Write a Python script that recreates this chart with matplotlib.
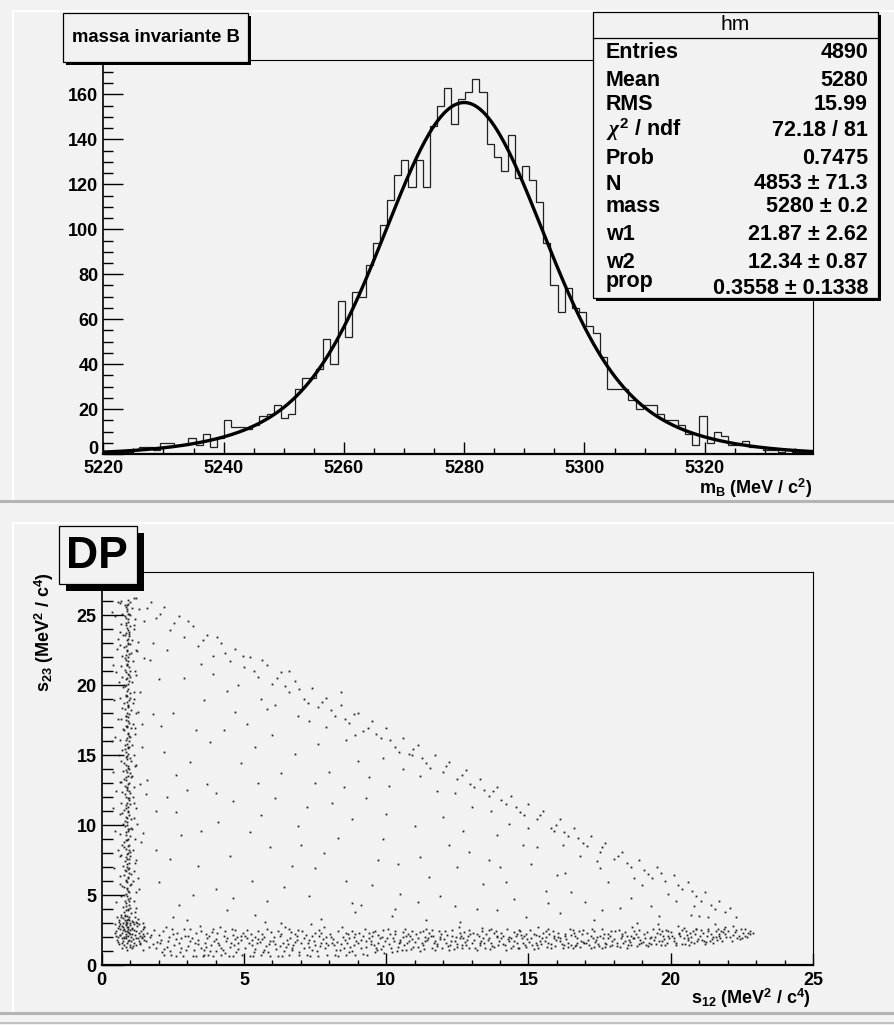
import numpy as np
import matplotlib
matplotlib.use('Agg')
import matplotlib.pyplot as plt
from matplotlib.patches import Rectangle
from matplotlib.lines import Line2D
from matplotlib.ticker import MultipleLocator, FuncFormatter

W, H = 895, 1025
BG = '#f2f2f2'

# ── top pad: B invariant mass histogram "hm" ────────────────────────────────
M_LO, M_HI = 5220.0, 5338.0
hm_counts = [0, 0, 1, 1, 2, 3, 3, 2, 5, 5, 4, 4, 7, 4, 9, 3, 7, 15, 12, 12,
             11, 13, 17, 18, 22, 16, 18, 29, 34, 34, 38, 51, 40, 68, 52, 72, 70, 84, 94, 102,
             113, 124, 131, 119, 131, 119, 146, 155, 163, 147, 158, 161, 167, 161, 138, 132, 126, 142, 123, 128,
             122, 112, 94, 75, 63, 74, 65, 63, 57, 54, 43, 29, 29, 29, 24, 20, 22, 22, 18, 15,
             15, 13, 9, 4, 17, 5, 10, 8, 4, 4, 6, 3, 3, 2, 2, 1, 2, 1, 1, 0]

# double gaussian fit, parameters as printed in the stats box
FIT_N, FIT_MASS, FIT_W1, FIT_W2, FIT_PROP = 4853.0, 5280.0, 21.87, 12.34, 0.3558

stats_labels = ['Entries', 'Mean', 'RMS', r'$\chi^{2}$ / ndf', 'Prob', 'N', 'mass',
                'w1', 'w2', 'prop']
stats_values = ['4890', '5280', '15.99', '72.18 / 81', '0.7475', '4853 ± 71.3',
                '5280 ± 0.2', '21.87 ± 2.62', '12.34 ± 0.87', '0.3558 ± 0.1338']

# ── bottom pad: Dalitz plot (s12, s23) ─────────────────────────────────────
dp_vband = [
    [0.88, 1.6], [0.95, 1.8], [0.79, 1.9], [1.02, 2.0], [0.91, 2.1], [0.84, 2.2], [0.97, 2.3], [0.90, 2.4],
    [0.76, 2.5], [1.05, 2.6], [0.93, 2.7], [0.86, 2.9], [0.99, 3.0], [0.81, 3.2], [0.94, 3.3], [0.89, 3.5],
    [1.03, 3.7], [0.78, 3.8], [0.92, 4.0], [0.87, 4.2], [0.96, 4.3], [0.83, 4.6], [1.00, 4.8], [0.90, 4.9],
    [0.85, 5.1], [0.94, 5.3], [0.80, 5.6], [0.98, 5.7], [0.89, 5.9], [0.92, 6.2], [0.77, 6.4], [1.04, 6.5],
    [0.86, 6.7], [0.95, 6.9], [0.90, 7.2], [0.82, 7.4], [0.97, 7.6], [0.88, 7.9], [1.01, 8.1], [0.84, 8.3],
    [0.93, 8.5], [0.79, 8.8], [0.91, 9.0], [0.99, 9.2], [0.87, 9.5], [0.95, 9.7], [0.83, 9.9], [0.90, 10.2],
    [1.02, 10.4], [0.86, 10.6], [0.94, 10.9], [0.78, 11.1], [0.92, 11.3], [0.88, 11.6], [0.97, 11.8],
    [0.84, 12.0], [1.00, 12.3], [0.90, 12.5], [0.81, 12.8], [0.95, 13.0], [0.87, 13.2], [0.93, 13.5],
    [0.99, 13.7], [0.85, 13.9], [0.91, 14.2], [0.79, 14.4], [1.03, 14.6], [0.88, 14.9], [0.94, 15.1],
    [0.83, 15.4], [0.96, 15.6], [0.90, 15.8], [0.86, 16.1], [1.01, 16.3], [0.92, 16.5], [0.80, 16.8],
    [0.89, 17.0], [0.97, 17.3], [0.84, 17.5], [0.93, 17.7], [0.88, 18.0], [1.04, 18.2], [0.91, 18.4],
    [0.78, 18.7], [0.95, 18.9], [0.86, 19.2], [0.99, 19.4], [0.90, 19.6], [0.83, 19.9], [0.94, 20.1],
    [0.87, 20.4], [1.00, 20.6], [0.92, 20.8], [0.81, 21.1], [0.96, 21.3], [0.89, 21.5], [0.85, 21.8],
    [0.93, 22.0], [1.02, 22.3], [0.88, 22.5], [0.79, 22.7], [0.94, 23.0], [0.90, 23.2], [0.97, 23.5],
    [0.84, 23.7], [0.91, 23.9], [1.01, 24.2], [0.87, 24.4], [0.93, 24.7], [0.82, 24.9], [0.96, 25.1],
    [0.89, 25.4], [0.85, 25.6], [0.98, 25.9], [0.92, 26.1],
    [0.93, 1.7], [0.85, 2.05], [0.99, 2.25], [0.81, 2.45], [0.90, 2.75], [1.00, 2.85], [0.87, 3.1],
    [0.95, 3.4], [0.83, 3.6], [0.91, 3.9], [0.98, 4.1], [0.86, 4.4], [0.93, 4.7], [0.80, 5.0], [0.96, 5.2],
    [0.88, 5.5], [1.02, 5.8], [0.84, 6.0], [0.91, 6.3], [0.97, 6.6], [0.82, 6.8], [0.89, 7.0], [0.95, 7.3],
    [0.86, 7.7], [1.00, 7.8], [0.92, 8.0], [0.80, 8.4], [0.96, 8.6], [0.88, 8.9], [0.85, 9.3], [0.93, 9.6],
    [1.03, 9.8], [0.89, 10.0], [0.81, 10.3], [0.96, 10.7], [0.91, 11.0], [0.86, 11.4], [1.00, 11.5],
    [0.93, 11.9], [0.83, 12.2], [0.97, 12.4], [0.89, 12.7], [0.92, 12.9], [0.79, 13.3], [1.02, 13.4],
    [0.88, 13.8], [0.95, 14.0], [0.84, 14.3], [0.90, 14.7], [0.98, 14.8], [0.86, 15.2], [0.92, 15.5],
    [0.81, 15.7], [0.96, 16.0], [0.89, 16.2], [0.94, 16.6], [1.03, 16.9], [0.85, 17.1], [0.91, 17.4],
    [0.87, 17.8], [0.97, 17.9], [0.82, 18.3], [0.93, 18.6], [0.89, 18.8], [1.01, 19.1], [0.86, 19.3],
    [0.92, 19.7], [0.80, 20.0], [0.95, 20.3], [0.90, 20.5], [0.84, 20.9], [0.98, 21.0], [0.88, 21.4],
    [0.93, 21.7], [0.83, 21.9], [0.97, 22.2], [0.90, 22.4], [0.86, 22.8], [1.00, 22.9], [0.92, 23.3],
    [0.81, 23.6], [0.95, 23.8], [0.88, 24.1], [0.93, 24.5], [0.86, 24.8], [0.99, 25.0], [0.90, 25.3],
    [0.83, 25.7], [0.94, 25.8],
    [0.87, 1.95], [0.93, 2.6], [0.89, 3.25], [0.85, 3.95], [0.95, 4.6], [0.90, 5.4], [0.84, 6.1],
    [0.94, 6.85], [0.88, 7.55], [0.96, 8.2], [0.86, 8.95], [0.92, 9.7], [0.89, 10.5], [0.85, 11.2],
    [0.95, 11.95], [0.90, 12.65], [0.87, 13.4], [0.93, 14.1], [0.84, 14.85], [0.91, 15.6], [0.96, 16.35],
    [0.88, 17.05], [0.85, 17.8], [0.94, 18.5], [0.90, 19.25], [0.86, 20.0], [0.95, 20.7], [0.89, 21.45],
    [0.84, 22.15], [0.92, 22.9], [0.97, 23.65], [0.87, 24.3], [0.91, 25.05], [0.88, 25.75],
]
dp_vwide = [
    [0.70, 1.55], [1.10, 1.85], [0.64, 2.15], [1.22, 2.45], [0.73, 2.8], [1.08, 3.15], [0.67, 3.45],
    [1.16, 3.8], [0.75, 4.15], [1.12, 4.55], [0.69, 4.9], [1.19, 5.25], [0.72, 5.65], [1.09, 6.0],
    [0.66, 6.35], [1.14, 6.75], [0.74, 7.1], [1.21, 7.5], [0.68, 7.85], [1.11, 8.25], [0.71, 8.6],
    [1.17, 9.0], [0.65, 9.35], [1.07, 9.75], [0.76, 10.1], [1.13, 10.5], [0.70, 10.85], [1.20, 11.25],
    [0.67, 11.6], [1.10, 12.0], [0.73, 12.35], [1.15, 12.75], [0.64, 13.1], [1.08, 13.5], [0.75, 13.85],
    [1.18, 14.25], [0.69, 14.6], [1.12, 15.0], [0.72, 15.35], [1.06, 15.75], [0.66, 16.1], [1.16, 16.5],
    [0.74, 16.85], [1.10, 17.25], [0.68, 17.6], [1.19, 18.0], [0.71, 18.35], [1.09, 18.75], [0.65, 19.1],
    [1.14, 19.5], [0.76, 19.85], [1.07, 20.25], [0.70, 20.6], [1.17, 21.0], [0.67, 21.35], [1.11, 21.75],
    [0.73, 22.1], [1.20, 22.5], [0.64, 22.85], [1.08, 23.25], [0.75, 23.6], [1.13, 24.0], [0.69, 24.35],
    [1.16, 24.75], [0.72, 25.1], [1.06, 25.5], [0.66, 25.85], [1.12, 26.2],
    [0.45, 2.3], [1.35, 2.1], [0.55, 3.4], [1.25, 3.0], [0.62, 2.8], [1.45, 2.6], [0.50, 4.5], [1.20, 4.1],
    [0.66, 5.8], [1.30, 5.4], [0.42, 6.9], [1.18, 7.3], [0.58, 8.2], [1.38, 8.8], [0.47, 9.6], [1.24, 10.1],
    [0.63, 10.8], [1.15, 11.6], [0.52, 12.4], [1.33, 12.9], [0.40, 13.8], [1.22, 14.3], [0.60, 15.0],
    [1.41, 15.6], [0.48, 16.3], [1.17, 16.9], [0.56, 17.6], [1.28, 18.1], [0.44, 18.9], [1.36, 19.5],
    [0.61, 20.2], [1.21, 20.7], [0.38, 21.4], [1.47, 21.9], [0.53, 22.6], [1.26, 23.1], [0.65, 23.8],
    [1.14, 24.3], [0.46, 24.9], [1.32, 25.4], [0.57, 25.9], [1.19, 26.2], [0.35, 25.2], [0.68, 26.0],
    [1.50, 24.6], [0.41, 11.2], [1.44, 9.4], [0.69, 13.1], [1.12, 19.0], [0.50, 20.9], [1.40, 17.2],
    [0.64, 7.8], [1.29, 6.2], [0.37, 16.0], [1.55, 12.2], [0.59, 23.3], [1.23, 22.4],
]
dp_corner = [
    [0.62, 1.5], [0.74, 1.7], [1.12, 1.6], [0.58, 2.0], [1.20, 1.9], [0.70, 2.3], [1.08, 2.2], [0.66, 2.6],
    [1.15, 2.5], [0.80, 2.0], [1.30, 2.3], [0.52, 2.4], [0.98, 1.4], [1.25, 2.8], [0.76, 3.0], [1.10, 3.1],
    [0.60, 3.2], [1.40, 2.0], [0.85, 1.3], [1.05, 1.2], [0.72, 1.2], [1.35, 1.6], [0.55, 1.8], [1.18, 3.4],
    [0.68, 3.6], [1.48, 2.7], [0.90, 1.1], [0.64, 2.9], [1.28, 3.3], [0.82, 3.5], [1.00, 1.3], [0.74, 2.7],
    [1.14, 2.9], [1.50, 1.8], [0.48, 2.9], [1.22, 1.4],
    [0.58, 1.65], [0.78, 1.45], [1.02, 1.75], [1.26, 1.95], [0.66, 2.15], [0.92, 2.35], [1.16, 2.15],
    [1.38, 2.45], [0.56, 2.65], [0.84, 2.85], [1.06, 2.65], [1.32, 2.95], [0.62, 3.05], [0.96, 3.25],
    [1.20, 3.05], [0.74, 3.35], [1.44, 2.2], [0.50, 2.1], [1.10, 1.35], [0.70, 1.9], [1.00, 2.5],
    [0.80, 2.55], [1.30, 1.75], [0.90, 3.0], [1.45, 3.0],
]
dp_hband = [
    [1.4, 1.9], [1.6, 2.3], [1.8, 1.5], [1.5, 2.7], [1.9, 1.2], [1.7, 2.0], [1.45, 1.1], [1.85, 2.5],
    [1.35, 1.5], [1.55, 1.75], [1.75, 2.15], [1.95, 1.65], [1.65, 1.3], [1.5, 2.05],
    [2.1, 1.8], [2.3, 1.3], [2.5, 2.2], [2.7, 1.6], [2.9, 2.6], [2.2, 0.7], [2.6, 0.65], [2.4, 1.0],
    [2.8, 1.9], [2.15, 2.4], [2.55, 1.45], [2.95, 1.1], [2.35, 2.0], [2.75, 0.9], [2.05, 1.55],
    [2.02, 2.15], [2.18, 1.15], [2.32, 1.7], [2.48, 2.55], [2.62, 1.85], [2.78, 1.25], [2.92, 2.05],
    [2.44, 0.68], [2.86, 0.63], [2.12, 0.95], [2.66, 2.3], [2.26, 2.75],
    [3.1, 1.7], [3.3, 2.3], [3.5, 1.2], [3.7, 1.9], [3.9, 2.6], [3.2, 0.65], [3.6, 0.7], [3.4, 1.5],
    [3.8, 1.0], [3.05, 2.1], [3.45, 2.8], [3.85, 1.4], [3.25, 1.1], [3.65, 2.2], [3.95, 1.75], [3.55, 0.62],
    [3.02, 1.35], [3.18, 1.95], [3.32, 0.64], [3.48, 2.45], [3.62, 1.6], [3.78, 2.1], [3.92, 0.66],
    [3.12, 2.55], [3.38, 1.8], [3.58, 1.05], [3.72, 0.68], [3.88, 2.35], [3.28, 1.55], [3.68, 1.3],
    [4.1, 1.6], [4.3, 2.1], [4.5, 1.3], [4.7, 2.5], [4.9, 1.8], [4.2, 0.68], [4.6, 0.63], [4.0, 1.0],
    [4.4, 1.9], [4.8, 1.15], [4.15, 2.7], [4.55, 1.55], [4.95, 2.3], [4.35, 0.85], [4.75, 2.0],
    [4.65, 1.4], [4.05, 2.3],
    [4.02, 1.85], [4.18, 1.25], [4.32, 2.4], [4.48, 0.66], [4.62, 2.15], [4.78, 1.6], [4.92, 0.7],
    [4.12, 1.45], [4.38, 1.7], [4.58, 2.6], [4.72, 0.95], [4.88, 2.05], [4.28, 1.05], [4.68, 1.85],
    [5.1, 1.9], [5.3, 1.4], [5.5, 2.4], [5.7, 1.1], [5.9, 1.7], [5.2, 0.66], [5.6, 0.7], [5.4, 2.0],
    [5.8, 2.6], [5.05, 1.25], [5.45, 1.6], [5.85, 0.95], [5.25, 2.2], [5.65, 1.85], [5.95, 2.35],
    [5.35, 0.9], [5.75, 3.1],
    [5.02, 2.05], [5.18, 1.55], [5.32, 0.65], [5.48, 1.85], [5.62, 2.25], [5.78, 1.35], [5.92, 0.67],
    [5.12, 2.5], [5.38, 1.15], [5.58, 1.65], [5.72, 2.0], [5.88, 1.5], [5.28, 1.8], [5.68, 0.92],
    [6.1, 1.5], [6.3, 2.2], [6.5, 1.8], [6.7, 1.2], [6.9, 2.5], [6.2, 0.64], [6.6, 0.69], [6.4, 1.0],
    [6.8, 1.65], [6.05, 2.0], [6.45, 2.7], [6.85, 2.05], [6.25, 1.35], [6.65, 2.35], [6.95, 0.9], [6.55, 1.5],
    [6.02, 1.75], [6.18, 2.45], [6.32, 0.66], [6.48, 1.3], [6.62, 1.95], [6.78, 2.2], [6.92, 0.68],
    [6.12, 1.15], [6.38, 1.6], [6.58, 2.55], [6.72, 1.45], [6.88, 1.8], [6.28, 2.1], [6.68, 1.05],
    [7.1, 1.9], [7.3, 1.3], [7.5, 2.3], [7.7, 1.6], [7.9, 2.0], [7.2, 0.68], [7.6, 0.66], [7.4, 1.1],
    [7.8, 2.7], [7.05, 2.4], [7.45, 1.75], [7.85, 1.2], [7.25, 1.55], [7.65, 2.05], [7.95, 1.45], [7.35, 2.9],
    [7.02, 1.55], [7.18, 2.15], [7.32, 0.64], [7.48, 1.4], [7.62, 2.5], [7.78, 1.85], [7.92, 0.7],
    [7.12, 1.2], [7.38, 2.05], [7.58, 1.0], [7.72, 2.3], [7.88, 1.6], [7.28, 1.8], [7.68, 1.35],
    [8.1, 1.6], [8.3, 2.4], [8.5, 1.2], [8.7, 1.9], [8.9, 2.2], [8.2, 0.7], [8.6, 0.68], [8.4, 1.5],
    [8.8, 1.0], [8.05, 2.0], [8.45, 2.7], [8.85, 1.45], [8.25, 1.1], [8.65, 2.25], [8.95, 1.75], [8.55, 1.8],
    [8.02, 2.2], [8.18, 1.4], [8.32, 0.67], [8.48, 2.0], [8.62, 1.55], [8.78, 2.45], [8.92, 0.72],
    [8.12, 1.85], [8.38, 1.1], [8.58, 2.3], [8.72, 1.3], [8.88, 2.0], [8.28, 1.65], [8.68, 0.95],
    [9.1, 1.8], [9.3, 1.3], [9.5, 2.1], [9.7, 1.6], [9.9, 2.5], [9.2, 0.8], [9.6, 0.95], [9.4, 1.9],
    [9.8, 1.15], [9.05, 2.3], [9.45, 1.5], [9.85, 2.0], [9.25, 2.6], [9.65, 1.25], [9.95, 1.7], [9.55, 2.35],
    [9.02, 1.55], [9.18, 2.05], [9.32, 0.75], [9.48, 1.7], [9.62, 2.4], [9.78, 1.9], [9.92, 0.85],
    [9.12, 1.2], [9.38, 2.3], [9.58, 1.45], [9.72, 2.15], [9.88, 1.35], [9.28, 1.75], [9.68, 1.1],
    [10.1, 1.5], [10.3, 2.2], [10.5, 1.8], [10.7, 1.1], [10.9, 2.4], [10.2, 0.9], [10.6, 2.0], [10.4, 1.3],
    [10.8, 1.7], [10.05, 2.6], [10.45, 1.55], [10.85, 2.05], [10.25, 1.95], [10.65, 2.55], [10.95, 1.3],
    [10.55, 1.05],
    [10.02, 1.9], [10.18, 1.25], [10.32, 2.45], [10.48, 1.65], [10.62, 1.4], [10.78, 2.2], [10.92, 1.85],
    [10.12, 2.25], [10.38, 1.0], [10.58, 2.35], [10.72, 1.55], [10.88, 1.15], [10.28, 1.75], [10.68, 2.05],
    [11.1, 1.9], [11.3, 1.4], [11.5, 2.3], [11.7, 1.7], [11.9, 2.0], [11.2, 1.0], [11.6, 1.2], [11.4, 2.6],
    [11.8, 1.5], [11.05, 2.2], [11.45, 1.8], [11.85, 2.4], [11.25, 1.55], [11.65, 2.1], [11.95, 1.25],
    [11.35, 2.0],
    [11.02, 1.65], [11.18, 2.35], [11.32, 1.15], [11.48, 1.95], [11.62, 2.5], [11.78, 1.35], [11.92, 2.2],
    [11.12, 1.3], [11.38, 1.75], [11.58, 2.05], [11.72, 1.1], [11.88, 1.85], [11.28, 2.45], [11.68, 1.55],
    [12.1, 1.6], [12.3, 2.1], [12.5, 1.3], [12.7, 1.9], [12.9, 2.5], [12.2, 1.1], [12.6, 2.3], [12.4, 1.7],
    [12.8, 1.4], [12.05, 2.4], [12.45, 2.0], [12.85, 1.8], [12.25, 1.45], [12.65, 1.2], [12.95, 2.2],
    [12.55, 2.7],
    [12.02, 1.85], [12.18, 1.35], [12.32, 2.5], [12.48, 1.5], [12.62, 2.05], [12.78, 1.65], [12.92, 1.25],
    [12.12, 2.15], [12.38, 1.15], [12.58, 1.9], [12.72, 2.35], [12.88, 2.05], [12.28, 1.7], [12.68, 1.45],
    [13.1, 1.8], [13.3, 1.4], [13.5, 2.2], [13.7, 1.6], [13.9, 2.0], [13.2, 1.1], [13.6, 2.5], [13.4, 1.9],
    [13.8, 1.3], [13.05, 2.3], [13.45, 1.55], [13.85, 2.4], [13.25, 2.1], [13.65, 1.15], [13.95, 1.7],
    [13.35, 2.65],
    [13.02, 1.55], [13.18, 2.25], [13.32, 1.7], [13.48, 1.2], [13.62, 1.95], [13.78, 2.3], [13.92, 1.45],
    [13.12, 1.25], [13.38, 2.45], [13.58, 1.8], [13.72, 1.35], [13.88, 2.1], [13.28, 1.6], [13.68, 2.6],
    [14.1, 1.5], [14.3, 2.0], [14.5, 1.7], [14.7, 2.4], [14.9, 1.3], [14.2, 1.1], [14.6, 2.2], [14.4, 1.9],
    [14.8, 1.6], [14.05, 2.3], [14.45, 1.35], [14.85, 2.1], [14.25, 2.6], [14.65, 1.2], [14.95, 1.85],
    [14.55, 2.05],
    [14.02, 1.95], [14.18, 1.4], [14.32, 1.75], [14.48, 2.35], [14.62, 1.25], [14.78, 1.95], [14.92, 2.2],
    [14.12, 2.05], [14.38, 1.2], [14.58, 1.6], [14.72, 2.15], [14.88, 1.45], [14.28, 1.85], [14.68, 2.5],
    [15.1, 1.9], [15.3, 1.4], [15.5, 2.3], [15.7, 1.6], [15.9, 2.1], [15.2, 1.15], [15.6, 2.0], [15.4, 1.75],
    [15.8, 1.25], [15.05, 2.5], [15.45, 1.5], [15.85, 2.4], [15.25, 2.15], [15.65, 1.3], [15.95, 1.8],
    [15.35, 2.7],
    [15.02, 1.65], [15.18, 2.2], [15.32, 1.25], [15.48, 1.9], [15.62, 2.45], [15.78, 1.5], [15.92, 1.35],
    [15.12, 1.4], [15.38, 2.05], [15.58, 1.7], [15.72, 2.25], [15.88, 1.95], [15.28, 1.55], [15.68, 2.6],
    [16.1, 1.7], [16.3, 2.2], [16.5, 1.4], [16.7, 1.9], [16.9, 2.5], [16.2, 1.2], [16.6, 2.3], [16.4, 1.6],
    [16.8, 1.3], [16.05, 2.0], [16.45, 2.6], [16.85, 1.75], [16.25, 1.45], [16.65, 2.05], [16.95, 1.55],
    [16.55, 1.25],
    [16.02, 2.3], [16.18, 1.5], [16.32, 1.85], [16.48, 2.15], [16.62, 1.35], [16.78, 2.4], [16.92, 1.65],
    [16.12, 1.95], [16.38, 1.3], [16.58, 2.5], [16.72, 1.6], [16.88, 2.2], [16.28, 2.05], [16.68, 1.4],
    [17.1, 1.8], [17.3, 1.3], [17.5, 2.1], [17.7, 1.6], [17.9, 2.4], [17.2, 1.25], [17.6, 1.2], [17.4, 2.0],
    [17.8, 1.9], [17.05, 2.3], [17.45, 1.5], [17.85, 1.35], [17.25, 2.6], [17.65, 2.2], [17.95, 1.7],
    [17.35, 1.65],
    [17.02, 1.55], [17.18, 2.1], [17.32, 2.45], [17.48, 1.35], [17.62, 1.9], [17.78, 2.25], [17.92, 1.45],
    [17.12, 1.4], [17.38, 1.8], [17.58, 2.55], [17.72, 1.5], [17.88, 2.05], [17.28, 1.95], [17.68, 1.3],
    [18.1, 1.6], [18.3, 2.2], [18.5, 1.4], [18.7, 1.9], [18.9, 2.5], [18.2, 1.3], [18.6, 2.1], [18.4, 1.7],
    [18.8, 1.35], [18.05, 2.4], [18.45, 1.25], [18.85, 2.0], [18.25, 1.9], [18.65, 2.7], [18.95, 1.55],
    [18.55, 1.8],
    [18.02, 1.85], [18.18, 2.5], [18.32, 1.55], [18.48, 2.05], [18.62, 1.45], [18.78, 2.2], [18.92, 1.8],
    [18.12, 1.35], [18.38, 2.35], [18.58, 1.65], [18.72, 2.45], [18.88, 1.5], [18.28, 2.1], [18.68, 1.95],
    [19.1, 1.9], [19.3, 1.5], [19.5, 2.3], [19.7, 1.7], [19.9, 2.1], [19.2, 1.35], [19.6, 2.6], [19.4, 1.8],
    [19.8, 1.4], [19.05, 2.2], [19.45, 2.0], [19.85, 2.5], [19.25, 1.6], [19.65, 1.45], [19.95, 1.95],
    [19.55, 2.9],
    [19.02, 1.65], [19.18, 2.35], [19.32, 2.0], [19.48, 1.5], [19.62, 2.2], [19.78, 1.85], [19.92, 2.45],
    [19.12, 1.45], [19.38, 2.6], [19.58, 1.75], [19.72, 2.05], [19.88, 1.6], [19.28, 1.9], [19.68, 2.4],
    [20.1, 1.7], [20.3, 2.3], [20.5, 1.5], [20.7, 2.0], [20.9, 2.6], [20.2, 1.4], [20.6, 1.8], [20.4, 2.5],
    [20.8, 1.55], [20.05, 2.1], [20.45, 1.9], [20.85, 2.2], [20.25, 2.8], [20.65, 1.45], [20.95, 1.85],
    [20.55, 2.4],
    [20.02, 2.35], [20.18, 1.6], [20.32, 2.05], [20.48, 2.65], [20.62, 1.95], [20.78, 2.4], [20.92, 1.7],
    [20.12, 1.9], [20.38, 1.5], [20.58, 2.15], [20.72, 1.65], [20.88, 2.55], [20.28, 2.2], [20.68, 2.3],
    [21.1, 1.8], [21.3, 2.4], [21.5, 1.6], [21.7, 2.1], [21.9, 2.7], [21.2, 1.5], [21.6, 2.0], [21.4, 2.2],
    [21.8, 1.75], [21.05, 2.5], [21.45, 1.85], [21.85, 2.35], [21.25, 1.65], [21.65, 2.6], [21.95, 2.0],
    [21.55, 2.9],
    [21.02, 2.1], [21.18, 1.7], [21.32, 2.55], [21.48, 2.0], [21.62, 1.8], [21.78, 2.45], [21.92, 2.2],
    [21.12, 2.3], [21.38, 1.75], [21.58, 2.4], [21.72, 1.95], [21.88, 2.6], [21.28, 2.05], [21.68, 2.25],
    [22.1, 2.0], [22.3, 2.5], [22.5, 1.9], [22.7, 2.3], [22.2, 2.8], [22.4, 2.1], [22.6, 2.6], [22.8, 2.2],
    [22.15, 1.7], [22.55, 2.3], [22.02, 2.4], [22.18, 2.15], [22.32, 1.95], [22.48, 2.6], [22.62, 2.1],
    [22.78, 2.45], [22.25, 2.35], [22.45, 1.85], [22.68, 2.0], [22.9, 2.3],
]
dp_hhalo = [
    [3.0, 3.2], [5.4, 3.6], [7.7, 3.3], [10.2, 3.5], [12.6, 3.1], [14.9, 3.4], [17.3, 3.2], [19.6, 3.5],
    [21.3, 3.4], [8.9, 3.8], [16.1, 3.7], [2.5, 3.4], [6.3, 3.0], [11.4, 3.2], [13.9, 3.9], [18.8, 3.0],
    [20.7, 3.6], [4.4, 3.9],
]
dp_diag = [
    [1.6, 25.5], [1.9, 24.8], [2.2, 25.6], [2.4, 23.9], [2.7, 24.9], [2.9, 23.4], [3.2, 24.2], [3.4, 22.8],
    [3.7, 23.6], [3.9, 22.1], [4.2, 23.0], [4.5, 21.7], [4.7, 22.6], [5.0, 21.3], [5.2, 22.0], [5.5, 20.6],
    [5.8, 21.4], [6.0, 20.1], [6.3, 20.9], [6.6, 19.5], [6.8, 20.3], [7.1, 19.0], [7.4, 19.8], [7.6, 18.4],
    [7.9, 19.1], [8.2, 17.8], [8.4, 18.6], [8.7, 17.3], [9.0, 18.0], [9.2, 16.7], [9.5, 17.4], [9.8, 16.2],
    [10.0, 16.9], [10.3, 15.6], [10.6, 16.2], [10.9, 15.0], [11.1, 15.7], [11.4, 14.4], [11.7, 15.0],
    [12.0, 13.8], [12.2, 14.5], [12.5, 13.3], [12.8, 13.9], [13.1, 12.7], [13.3, 13.3], [13.6, 12.1],
    [13.9, 12.7], [14.2, 11.5], [14.4, 12.1], [14.7, 10.9], [15.0, 11.5], [15.3, 10.4], [15.5, 11.0],
    [15.8, 9.8], [16.1, 10.4], [16.4, 9.2], [16.6, 9.8], [16.9, 8.7], [17.2, 9.2], [17.5, 8.1], [17.7, 8.7],
    [18.0, 7.6], [18.3, 8.1], [18.6, 7.0], [18.9, 7.5], [19.2, 6.5], [19.5, 7.0], [19.8, 6.0], [20.1, 6.4],
    [20.4, 5.4], [20.6, 5.9], [20.9, 4.9], [21.2, 5.2], [21.4, 4.3], [21.7, 4.6], [21.9, 3.8], [22.1, 4.1],
    [21.0, 3.5], [22.3, 3.4],
    [2.3, 22.5], [3.5, 21.5], [4.8, 20.0], [6.1, 18.6], [7.3, 17.4], [8.6, 16.1], [9.9, 14.8], [11.2, 13.5],
    [12.4, 12.3], [13.7, 11.0], [15.0, 9.8], [16.2, 8.6], [17.4, 7.4], [18.7, 6.2], [19.9, 5.1], [20.8, 4.2],
    [1.8, 23.0], [5.6, 19.0], [10.6, 14.0], [14.3, 10.1],
    [1.75, 25.9], [2.05, 25.1], [2.55, 24.4], [3.05, 24.6], [3.55, 23.2], [4.05, 23.4], [4.35, 22.3],
    [4.95, 22.1], [5.35, 21.0], [5.65, 21.8], [6.15, 20.5], [6.45, 19.9], [6.95, 19.7], [7.25, 18.7],
    [7.75, 18.8], [8.05, 18.2], [8.55, 17.6], [8.85, 17.9], [9.35, 16.9], [9.65, 16.5], [10.15, 16.1],
    [10.45, 15.2], [10.95, 15.4], [11.25, 14.8], [11.55, 14.1], [12.1, 14.2], [12.65, 13.6], [12.95, 12.9],
    [13.45, 12.5], [13.75, 12.4], [14.05, 11.8], [14.55, 11.3], [14.85, 10.7], [15.4, 10.7], [15.95, 10.0],
    [16.25, 9.5], [16.75, 9.1], [17.05, 8.5], [17.6, 8.4], [18.15, 7.8], [18.45, 7.3], [19.05, 6.8],
    [19.35, 6.2], [19.65, 6.6], [20.25, 5.7], [20.75, 5.3], [21.05, 4.6], [21.55, 4.0],
]
dp_inner = [
    [2.5, 18.0], [3.0, 12.5], [3.4, 7.1], [3.8, 15.9], [4.1, 10.2], [4.6, 4.8], [5.1, 17.2], [5.5, 13.0],
    [5.9, 8.4], [6.4, 5.6], [6.8, 15.1], [7.2, 11.3], [7.5, 6.9], [8.0, 13.8], [8.3, 9.1], [8.8, 4.4],
    [9.3, 11.9], [9.7, 7.5], [10.1, 12.8], [10.5, 5.1], [11.0, 9.9], [11.5, 6.3], [12.0, 10.6], [12.4, 4.2],
    [12.9, 8.1], [13.4, 5.8], [13.9, 9.3], [14.5, 4.7], [15.1, 7.2], [15.6, 5.3], [16.3, 6.6], [17.0, 4.5],
    [17.8, 5.9], [2.8, 9.3], [4.4, 19.6], [6.1, 11.9], [7.9, 17.0], [9.0, 14.6], [10.8, 15.1], [11.8, 12.4],
    [3.2, 5.0], [5.3, 6.0], [7.0, 8.6], [8.6, 6.0], [9.9, 9.0], [13.0, 11.3], [14.8, 8.6], [16.8, 7.8],
    [2.2, 15.2], [6.6, 21.0], [4.9, 14.4], [8.4, 19.5], [12.5, 7.0], [15.9, 9.6], [18.6, 4.8], [3.6, 18.9],
    [10.3, 4.0], [19.3, 4.2], [2.0, 20.4], [2.6, 13.6], [3.3, 16.8], [1.9, 11.0], [4.0, 12.3], [2.4, 7.6],
    [1.7, 21.8], [2.1, 17.1], [2.9, 20.5], [3.1, 14.5], [3.9, 20.8], [4.3, 16.8], [4.7, 18.1], [5.4, 15.6],
    [5.8, 18.3], [6.3, 13.7], [6.9, 17.8], [7.6, 15.8], [8.1, 11.6], [8.9, 16.4], [9.4, 13.4], [10.0, 10.8],
    [1.8, 17.9], [2.6, 10.9], [3.5, 9.6], [4.5, 7.8], [5.6, 10.7], [6.9, 9.9], [7.8, 8.0], [8.8, 10.4],
    [9.5, 5.7], [11.2, 7.7], [11.9, 4.9], [12.7, 9.6], [13.6, 7.5], [14.2, 5.9], [15.3, 8.4], [16.5, 5.2],
    [17.5, 6.9], [18.2, 4.1], [19.0, 5.7], [2.0, 5.9], [2.7, 4.3], [4.0, 5.4], [5.8, 4.6], [7.3, 4.9],
    [9.1, 4.3], [11.1, 4.5], [13.2, 4.0], [15.7, 4.4], [17.6, 3.9], [20.2, 4.6], [1.6, 13.2], [1.9, 8.2],
    [3.7, 12.9], [5.2, 9.5], [6.7, 7.1], [8.5, 12.7], [10.4, 7.2], [12.2, 8.6], [14.0, 7.0], [16.0, 6.4],
    [2.3, 12.0], [4.6, 11.7], [6.0, 16.4], [7.5, 13.0],
]


def fx(x):
    return x / W


def fy(y):
    return 1.0 - y / H


def gauss(x, mu, sig):
    return np.exp(-0.5 * ((x - mu) / sig) ** 2) / (np.sqrt(2 * np.pi) * sig)


plt.rcParams.update({
    'font.family': 'Liberation Sans',
    'font.weight': 'bold',
    'mathtext.fontset': 'custom',
    'mathtext.rm': 'Liberation Sans:bold',
    'mathtext.bf': 'Liberation Sans:bold',
    'mathtext.it': 'Liberation Serif:italic',
    'axes.linewidth': 1.0,
})

fig = plt.figure(figsize=(W / 100, H / 100), dpi=100, facecolor=BG)


def style_axes(ax, ymaj_len, ymin_len, xmaj_len, xmin_len, xpad):
    ax.set_facecolor(BG)
    ax.spines['left'].set_linewidth(1.2)
    ax.spines['bottom'].set_linewidth(1.6)
    ax.spines['top'].set_linewidth(0.8)
    ax.spines['right'].set_linewidth(0.8)
    ax.tick_params(which='both', direction='in', top=False, right=False,
                   labelsize=13, width=1.0, colors='black')
    ax.tick_params(axis='y', which='major', length=ymaj_len, pad=3.5)
    ax.tick_params(axis='y', which='minor', length=ymin_len)
    ax.tick_params(axis='x', which='major', length=xmaj_len, pad=xpad)
    ax.tick_params(axis='x', which='minor', length=xmin_len)


# ── top pad ──────────────────────────────────────────────────────────────────
ax1 = fig.add_axes([fx(103.3), fy(454), (813 - 103.3) / W, (454 - 60) / H])
style_axes(ax1, 14.4, 7.2, 8.6, 4.3, 4.6)

edges = np.linspace(M_LO, M_HI, len(hm_counts) + 1)
ax1.stairs(hm_counts, edges, color='#202020', lw=0.9)

bin_w = (M_HI - M_LO) / len(hm_counts)
xf = np.linspace(M_LO, M_HI, 500)
yf = FIT_N * bin_w * (FIT_PROP * gauss(xf, FIT_MASS, FIT_W1)
                      + (1 - FIT_PROP) * gauss(xf, FIT_MASS, FIT_W2))
ax1.plot(xf, yf, color='black', lw=2.4)

ax1.set_xlim(M_LO, M_HI)
ax1.set_ylim(0, 1.05 * max(hm_counts))
ax1.xaxis.set_major_locator(MultipleLocator(20))
ax1.xaxis.set_minor_locator(MultipleLocator(5))
ax1.yaxis.set_major_locator(MultipleLocator(20))
ax1.yaxis.set_minor_locator(MultipleLocator(5))
# the "0" of the y axis sits a little above the axis, clear of "5220" (as ROOT does)
ax1.yaxis.set_major_formatter(FuncFormatter(lambda v, p: '' if v == 0 else f'{v:g}'))
fig.text(fx(98.5), fy(449), '0', ha='right', va='center', fontsize=13)

fig.text(fx(812), fy(488), r'm$_{\mathrm{B}}$ (MeV / c$^{2}$)', ha='right', va='center',
         fontsize=13)

# ── bottom pad ───────────────────────────────────────────────────────────────
ax2 = fig.add_axes([fx(101.7), fy(965), (813 - 101.7) / W, (965 - 571.7) / H])
style_axes(ax2, 15.6, 7.8, 8.6, 3.8, 5.0)

dp = np.array(dp_vband + dp_vwide + dp_corner + dp_hband + dp_hhalo + dp_diag + dp_inner)
ax2.plot(dp[:, 0], dp[:, 1], 's', ms=1.3, mew=0, color='#222222')

ax2.set_xlim(0, 25)
ax2.set_ylim(0, 28.1)
ax2.xaxis.set_major_locator(MultipleLocator(5))
ax2.xaxis.set_minor_locator(MultipleLocator(1))
ax2.yaxis.set_major_locator(MultipleLocator(5))
ax2.yaxis.set_minor_locator(MultipleLocator(1))

fig.text(fx(811), fy(998), r's$_{12}$ (MeV$^{2}$ / c$^{4}$)', ha='right', va='center',
         fontsize=13)
fig.text(fx(44), fy(572), r's$_{23}$ (MeV$^{2}$ / c$^{4}$)', ha='center', va='top',
         rotation=90, fontsize=13)


# ── boxes (title, stats, DP) ─────────────────────────────────────────────────
def box(x0, y0, x1, y1, shadow, lw=0.9):
    if shadow:
        fig.add_artist(Rectangle((fx(x0 + shadow), fy(y1 + shadow)), (x1 - x0) / W,
                                 (y1 - y0) / H, transform=fig.transFigure,
                                 facecolor='black', edgecolor='none', zorder=20))
    fig.add_artist(Rectangle((fx(x0), fy(y1)), (x1 - x0) / W, (y1 - y0) / H,
                             transform=fig.transFigure, facecolor=BG,
                             edgecolor='black', lw=lw, zorder=21))


box(63, 13, 248, 62, 3)
fig.text(fx(155.5), fy(38), 'massa invariante B', ha='center', va='center',
         fontsize=13.3, zorder=22)

box(593, 12, 878, 298, 3)
fig.add_artist(Line2D([fx(593), fx(878)], [fy(38), fy(38)], transform=fig.transFigure,
                      color='black', lw=0.9, zorder=22))
fig.text(fx(735.5), fy(25), 'hm', ha='center', va='center', fontsize=15,
         fontweight='normal', zorder=22)
label_y = [53, 80, 105, 130, 158, 185, 206, 235, 262, 282]
value_y = [53, 80, 105, 130, 158, 184, 207, 235, 262, 288]
for lab, val, ly, vy in zip(stats_labels, stats_values, label_y, value_y):
    fig.text(fx(606), fy(ly), lab, ha='left', va='center', fontsize=15.5, zorder=22)
    fig.text(fx(868), fy(vy), val, ha='right', va='center', fontsize=15.5, zorder=22)

box(59, 526, 137, 584, 7)
fig.text(fx(97), fy(556), 'DP', ha='center', va='center', fontsize=32, zorder=22)


# ── pad bevels ───────────────────────────────────────────────────────────────
def hline(y, x0, x1, color, lw):
    fig.add_artist(Line2D([fx(x0), fx(x1)], [fy(y), fy(y)], transform=fig.transFigure,
                          color=color, lw=lw, zorder=1))


def vline(x, y0, y1, color, lw):
    fig.add_artist(Line2D([fx(x), fx(x)], [fy(y0), fy(y1)], transform=fig.transFigure,
                          color=color, lw=lw, zorder=1))


hline(11, 13, W, 'white', 1.5)
vline(13, 11, 500, 'white', 1.5)
hline(501, 0, W, '#b4b4b4', 2.2)
hline(523, 13, W, 'white', 1.5)
vline(13, 523, 1013, 'white', 1.5)
hline(1013, 0, W, '#b4b4b4', 2.2)
hline(1023, 0, W, '#c0c0c0', 1.4)

fig.savefig('out.png', dpi=100, facecolor=BG)
